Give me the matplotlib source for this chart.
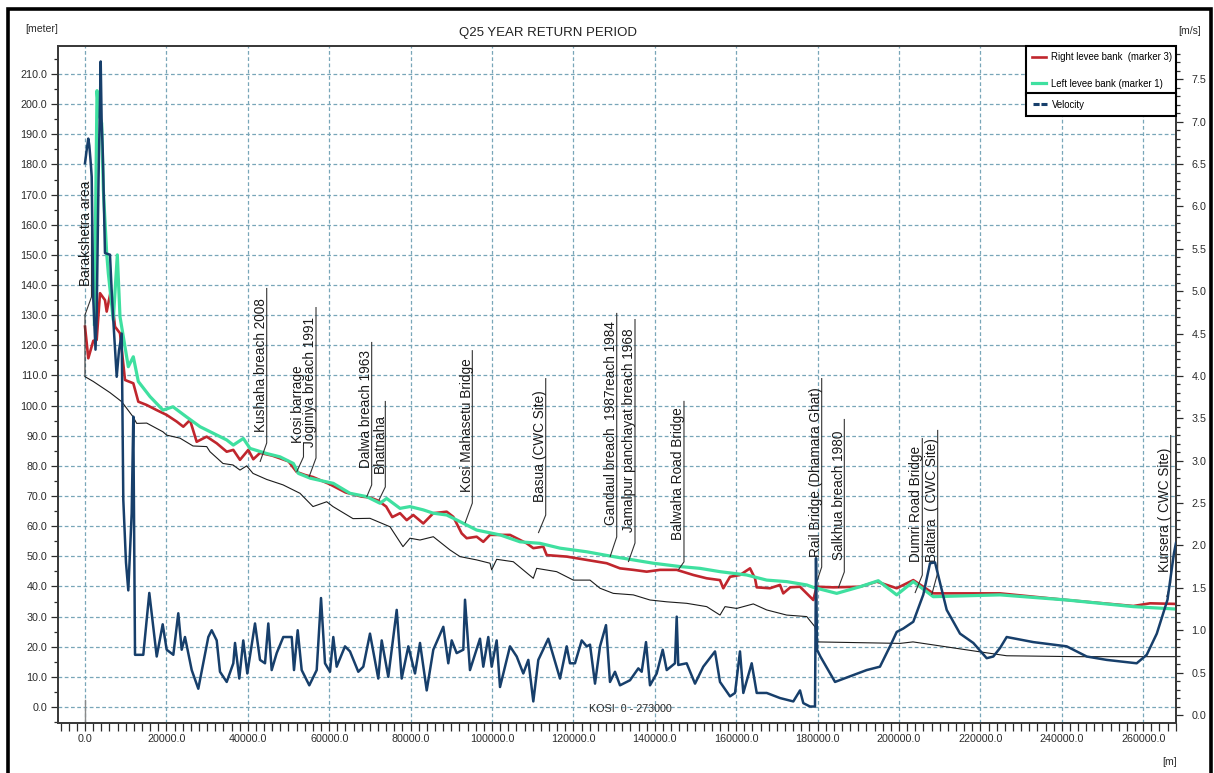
import matplotlib
matplotlib.use("Agg")
import matplotlib.pyplot as plt
from matplotlib import font_manager
from matplotlib.lines import Line2D
from matplotlib.patches import Rectangle
from matplotlib.ticker import MultipleLocator, FormatStrFormatter

# ---------------- data: Kosi reach, chainage in metres ----------------
bed_ch = [0, 2040, 6140, 9020, 11800, 12700, 15160, 19160, 20070, 23340,
          26540, 29900, 30710, 33900, 36360, 38080, 39730, 41280, 44640, 48650,
          52830, 56020, 59390, 60930, 65850, 70020, 74940, 78130, 79850, 82310,
          85580, 89680, 92140, 96240, 99510, 99920, 101150, 105230, 110150, 110980,
          115890, 119980, 124080, 126540, 129800, 134710, 138820, 142930, 147830, 152750,
          156020, 157250, 160120, 164200, 167500, 172410, 177320, 179360, 179770, 200250,
          203440, 219900, 226460, 243650, 268060]
bed_lv = [109.6, 108.0, 104.3, 101.3, 96.3, 94.1, 94.2, 91.3, 90.2, 89.2,
          86.6, 86.4, 84.7, 80.8, 80.3, 78.6, 80.0, 77.5, 75.5, 73.7,
          70.9, 66.5, 68.1, 66.5, 62.5, 62.6, 59.8, 53.2, 56.0, 55.4,
          56.5, 52.1, 49.9, 48.8, 47.7, 45.5, 49.0, 48.2, 42.7, 46.0,
          44.9, 42.1, 42.1, 39.4, 37.7, 37.2, 35.5, 34.9, 34.4, 33.3,
          30.5, 33.3, 32.7, 34.2, 32.2, 30.5, 30.0, 26.6, 21.6, 21.1,
          21.6, 18.3, 17.0, 16.7, 16.7]

right_ch = [0, 810, 2040, 2870, 3690, 4910, 5330, 6390, 7370, 8600,
            9830, 11870, 13100, 15160, 17620, 20070, 22530, 24150, 25800, 27440,
            29900, 32360, 34820, 36440, 38080, 40120, 41350, 43000, 46000, 50000,
            52000, 54000, 56000, 60000, 64000, 68000, 70000, 72000, 74000, 75500,
            77400, 79040, 80660, 83120, 85580, 88870, 90490, 92550, 93780, 96240,
            97860, 99510, 104420, 108530, 110150, 112610, 113440, 118350, 123270, 128180,
            131450, 134710, 138010, 141280, 145380, 149470, 152750, 156020, 156830, 158480,
            160930, 163390, 164620, 165040, 168300, 170760, 171570, 173290, 175680, 178950,
            179770, 183860, 190420, 194530, 199440, 203510, 208420, 224820, 233000, 241200,
            257570, 261670, 268060]
right_lv = [126.2, 115.7, 121.5, 121.8, 137.3, 135.0, 131.2, 138.4, 126.2, 124.0,
            108.5, 107.4, 101.3, 100.2, 98.5, 96.9, 94.7, 93.0, 95.2, 88.0,
            89.7, 87.5, 84.7, 85.3, 82.0, 85.3, 82.2, 84.3, 83.4, 81.5,
            78.0, 77.0, 76.3, 74.0, 71.2, 69.8, 69.5, 68.5, 66.5, 63.0,
            64.3, 62.0, 63.7, 60.9, 64.3, 64.8, 63.1, 57.6, 56.0, 56.5,
            54.8, 57.1, 57.1, 54.3, 52.7, 53.2, 50.4, 49.9, 48.8, 47.7,
            46.0, 45.5, 44.9, 45.5, 45.5, 43.8, 42.7, 42.1, 39.4, 43.2,
            43.8, 46.0, 42.7, 39.7, 39.4, 40.5, 37.7, 39.7, 39.9, 35.5,
            39.9, 39.7, 39.9, 41.6, 39.4, 42.1, 37.7, 37.7, 36.6, 35.5,
            33.5, 34.4, 34.2]

left_ch = [2300, 2950, 3400, 4100, 4510, 5330, 5730, 6950, 7940, 8600,
           10640, 11870, 13100, 15970, 19160, 21620, 24890, 28260, 31540, 34820,
           36440, 38900, 40540, 44640, 47920, 51200, 52430, 55370, 61010, 65110,
           69200, 72480, 74120, 77400, 79850, 83120, 85580, 88870, 92140, 96240,
           101970, 106890, 111800, 116710, 123270, 129800, 134710, 139630, 146180, 151100,
           156020, 162570, 167500, 172410, 177320, 178950, 184690, 190420, 194910, 199440,
           203510, 208420, 224820, 241200, 257570, 268060]
left_lv = [127.0, 204.5, 197.0, 193.7, 171.5, 150.5, 143.9, 128.4, 150.0, 129.5,
           112.9, 116.2, 108.0, 103.0, 98.5, 99.6, 96.3, 93.0, 90.8, 88.6,
           86.9, 89.1, 85.8, 84.1, 83.0, 80.8, 77.5, 75.9, 74.2, 70.9,
           69.8, 67.6, 69.2, 65.9, 66.5, 65.4, 64.3, 63.7, 61.5, 58.7,
           57.1, 54.8, 54.3, 52.7, 51.5, 49.9, 48.8, 47.7, 46.6, 46.0,
           44.9, 43.8, 42.1, 41.6, 40.5, 39.7, 37.7, 39.9, 41.9, 37.2,
           41.6, 36.6, 37.2, 35.5, 33.3, 32.5]

vel_ch = [0, 370, 810, 1060, 1350, 1650, 2040, 2580, 2870, 3320,
          3860, 4100, 4350, 4910, 6140, 6560, 6950, 7790, 8350, 9020,
          9410, 10070, 10640, 11470, 11870, 12290, 14320, 15800, 17620, 19090,
          20070, 21700, 22920, 23760, 24570, 26220, 27840, 30300, 31130, 32360,
          33170, 34820, 36440, 36860, 37910, 38890, 39880, 41770, 43000, 44230,
          45040, 45870, 47100, 48720, 50790, 51350, 52260, 53240, 55110, 56930,
          57990, 58970, 60200, 61010, 61840, 63880, 65110, 67150, 68380, 70020,
          72060, 72900, 74520, 76590, 77810, 79440, 81080, 82310, 83960, 85580,
          88040, 89260, 90100, 91320, 92950, 93370, 94590, 97050, 97860, 99090,
          99920, 101150, 101970, 104420, 106070, 107690, 108920, 110150, 111380, 113830,
          116710, 118350, 119160, 120390, 122040, 123270, 124080, 125310, 126540, 128010,
          128990, 130220, 131450, 133910, 135950, 136780, 137840, 138820, 140470, 141940,
          142930, 144960, 145380, 145770, 147830, 149880, 151910, 154790, 156020, 158480,
          159710, 160930, 161750, 163810, 165040, 167500, 170760, 174030, 175680, 176490,
          178130, 179360, 179610, 179860, 180680, 184280, 192060, 195320, 197790, 199440,
          201050, 203510, 205970, 207620, 208850, 211720, 214990, 218260, 221550, 223170,
          224820, 226460, 233000, 241200, 246120, 251030, 258400, 260860, 263340, 265970,
          267560, 268060]
vel_ms = [6.51, 6.65, 6.80, 6.72, 6.55, 6.35, 4.90, 4.31, 4.70, 6.30,
          7.71, 6.98, 6.67, 5.45, 5.43, 5.00, 4.66, 3.99, 4.30, 4.50,
          2.54, 1.80, 1.47, 2.38, 3.52, 0.71, 0.71, 1.44, 0.69, 1.07,
          0.77, 0.71, 1.20, 0.77, 0.92, 0.53, 0.31, 0.92, 1.00, 0.88,
          0.51, 0.39, 0.61, 0.85, 0.43, 0.88, 0.49, 1.08, 0.65, 0.61,
          1.08, 0.53, 0.73, 0.92, 0.92, 0.53, 1.00, 0.53, 0.35, 0.53,
          1.38, 0.61, 0.51, 0.92, 0.57, 0.81, 0.75, 0.51, 0.57, 0.96,
          0.43, 0.88, 0.45, 1.24, 0.43, 0.81, 0.49, 0.85, 0.29, 0.77,
          1.04, 0.61, 0.88, 0.73, 0.77, 1.36, 0.53, 0.90, 0.57, 0.92,
          0.57, 0.88, 0.33, 0.81, 0.69, 0.49, 0.65, 0.16, 0.65, 0.90,
          0.43, 0.81, 0.61, 0.61, 0.88, 0.81, 0.83, 0.37, 0.81, 1.06,
          0.39, 0.51, 0.35, 0.41, 0.55, 0.51, 0.86, 0.35, 0.49, 0.77,
          0.53, 0.61, 1.16, 0.59, 0.61, 0.37, 0.57, 0.75, 0.39, 0.22,
          0.26, 0.75, 0.26, 0.61, 0.26, 0.26, 0.20, 0.16, 0.29, 0.14,
          0.10, 0.10, 1.85, 0.77, 0.69, 0.39, 0.53, 0.57, 0.81, 0.98,
          1.02, 1.10, 1.42, 1.79, 1.80, 1.24, 0.96, 0.85, 0.67, 0.69,
          0.79, 0.92, 0.86, 0.81, 0.69, 0.65, 0.61, 0.71, 0.96, 1.36,
          1.91, 2.03]

# named sites along the reach and the point each one refers to
site_names = ["Barakshetra area", "Kushaha breach 2008", "Kosi barrage",
              "Joginiya breach 1991", "Dalwa breach 1963", "Bhatnaha",
              "Kosi Mahasetu Bridge", "Basua (CWC Site)",
              "Gandaul breach  1987reach 1984", "Jamalpur panchayat breach 1968",
              "Balwaha Road Bridge", "Rail Bridge (Dhamara Ghat)",
              "Salkhua breach 1980", "Dumri Road Bridge",
              "Baltara  ( CWC Site)", "Kursera ( CWC Site)"]
site_ch = [0, 43000, 52010, 55040, 69210, 72240, 93370, 111380,
           129000, 133490, 145770, 179360, 185090, 203930, 208030, 265770]
site_lv = [130.1, 81.3, 78.0, 76.3, 69.7, 68.7, 61.0, 57.7,
           49.8, 48.1, 45.5, 39.8, 39.5, 37.8, 37.2, 36.5]

# ---------------- layout of the site callouts (pixels from the site point) ----
# (dx of leader, leader top, leader bottom, start of text) ; upward distances
callout_px = [(6.5, 152, 18, 29), (6.7, 174, 19, 30), (6.8, 27, 15, 29),
              (7.0, 170, 19, 30), (5.0, 155, 12, 29), (6.3, 99, 13, 27),
              (7.3, 173, 20, 31), (7.4, 155, 18, 31), (6.7, 244, 20, 32),
              (6.7, 243, 19, 30), (5.7, 169, 8, 30), (6.7, 209, 20, 30),
              (6.0, 169, 16, 28), (7.3, 155, 18, 31), (6.0, 165, 22, 33),
              (4.0, 162, 14, 25)]

# ---------------- fonts ----------------
installed = {f.name for f in font_manager.fontManager.ttflist}
if "Liberation Sans Narrow" in installed:
    NARROW, NS, LEG_FS = "Liberation Sans Narrow", 1.0, 8.2
else:
    NARROW, NS, LEG_FS = "Liberation Sans", 0.9, 6.9
REGULAR = "Liberation Sans"

RED = "#c0262d"
GREEN = "#3fe0a0"
NAVY = "#173f6b"
BED = "#1c1c1c"
GRID = "#78a6b8"
INK = "#2b2b2b"

fig = plt.figure(figsize=(12.14, 7.73), dpi=100)
ax = fig.add_axes([0.04802, 0.06429, 0.92068, 0.87659])
ax2 = ax.twinx()

ax.set_xlim(-6560, 268060)
ax.set_ylim(-5.41, 219.41)
ax2.set_ylim(-0.098, 7.896)

ax.plot(bed_ch, bed_lv, color=BED, lw=0.8, zorder=3)
red_line, = ax.plot(right_ch, right_lv, color=RED, lw=1.9, zorder=4)
green_line, = ax.plot(left_ch, left_lv, color=GREEN, lw=2.3, zorder=5)
vel_line, = ax2.plot(vel_ch, vel_ms, color=NAVY, lw=1.8, zorder=3)

# reach start marker
ax.axvline(0, ymin=0, ymax=0.034, color="#8a8a8a", lw=1.0, zorder=2)

# axes styling
ax.xaxis.set_major_locator(MultipleLocator(20000))
ax.xaxis.set_minor_locator(MultipleLocator(2000))
ax.xaxis.set_major_formatter(FormatStrFormatter("%.1f"))
ax.yaxis.set_major_locator(MultipleLocator(10))
ax.yaxis.set_minor_locator(MultipleLocator(5))
ax.yaxis.set_major_formatter(FormatStrFormatter("%.1f"))
ax2.yaxis.set_major_locator(MultipleLocator(0.5))
ax2.yaxis.set_minor_locator(MultipleLocator(0.1))
ax2.yaxis.set_major_formatter(FormatStrFormatter("%.1f"))

tick_fs = 8.6 * NS
ax.tick_params(axis="x", which="both", direction="out", length=5.5, width=0.9,
               color=INK, pad=2, labelsize=tick_fs, labelcolor=INK)
ax.tick_params(axis="y", which="major", direction="out", length=5, width=0.9,
               color=INK, pad=3, labelsize=tick_fs, labelcolor=INK)
ax.tick_params(axis="y", which="minor", direction="out", length=3, width=0.9, color=INK)
ax2.tick_params(axis="y", which="major", direction="out", length=5, width=0.9,
                color=INK, pad=6, labelsize=tick_fs, labelcolor=INK)
ax2.tick_params(axis="y", which="minor", direction="out", length=3, width=0.9, color=INK)
for lab in ax.get_xticklabels() + ax.get_yticklabels() + ax2.get_yticklabels():
    lab.set_family(NARROW)

for a in (ax, ax2):
    for sp in a.spines.values():
        sp.set_color("#3a3a3a")
        sp.set_linewidth(1.3)

ax.set_axisbelow(True)
ax.grid(which="major", axis="both", color=GRID, linestyle=(0, (3, 2)), lw=0.9)

# site callouts: leader drawn beside rotated text, then a slanted tail to the site
fig.canvas.draw()
to_disp = ax.transData.transform
to_data = ax.transData.inverted().transform
for name, ch, lv, (dx, up_top, up_bot, up_txt) in zip(site_names, site_ch, site_lv, callout_px):
    X, Y = to_disp((ch, lv))
    x_top, y_top = to_data((X + dx, Y + up_top))
    _, y_bot = to_data((X + dx, Y + up_bot))
    xs, ys = [x_top, x_top, ch], [y_top, y_bot, lv]
    if ch == 0:
        xs.append(0)
        ys.append(bed_lv[0])
    ax.plot(xs, ys, color="#333333", lw=0.8, zorder=6, solid_capstyle="butt")
    tx, ty = to_data((X + dx - 1.8, Y + up_txt))
    ax.text(tx, ty, name, rotation=90, rotation_mode="anchor", ha="left",
            va="baseline", fontsize=9.8, family=REGULAR, color="#1a1a1a", zorder=7)

ax.text(133900, -0.7, "KOSI  0 - 273000", ha="center", va="center",
        fontsize=8.6 * NS, family=NARROW, color=INK, zorder=7)

# headings and unit captions
fig.text(0.4514, 0.9573, "Q25 YEAR RETURN PERIOD", ha="center", va="center",
         fontsize=10.6 * NS, family=NARROW, color="#222222")
fig.text(0.0346, 0.9625, "[meter]", ha="center", va="center",
         fontsize=8.4 * NS, family=NARROW, color=INK)
fig.text(0.9802, 0.9599, "[m/s]", ha="center", va="center",
         fontsize=8.4 * NS, family=NARROW, color=INK)
fig.text(0.9638, 0.0142, "[m]", ha="center", va="center",
         fontsize=8.4 * NS, family=NARROW, color=INK)

# legends: levee banks in an opaque box, velocity in a see-through box below
leg_font = {"family": NARROW, "size": LEG_FS}
leg1 = fig.legend([red_line, green_line],
                  ["Right levee bank  (marker 3)", "Left levee bank (marker 1)"],
                  loc="upper left", bbox_to_anchor=(0.8451, 0.8797, 0.1236, 0.0608),
                  mode="expand", borderaxespad=0, frameon=True, fancybox=False,
                  framealpha=1, facecolor="white", edgecolor="black", prop=leg_font,
                  borderpad=0.62, handlelength=1.5, handletextpad=0.5, labelspacing=1.75)
leg1.get_frame().set_linewidth(1.5)
vel_handle = Line2D([], [], color=NAVY, lw=2.2, dashes=(2.0, 0.6))
leg2 = fig.legend([vel_handle], ["Velocity"],
                  loc="upper left", bbox_to_anchor=(0.8451, 0.8473, 0.1236, 0.0324),
                  mode="expand", borderaxespad=0, frameon=True, fancybox=False,
                  framealpha=1, facecolor=(1, 1, 1, 0), edgecolor="black", prop=leg_font,
                  borderpad=0.7, handlelength=1.5, handletextpad=0.5)
frame2 = leg2.get_frame()
frame2.set_linewidth(1.5)
frame2.set_facecolor((1, 1, 1, 0))
frame2.set_edgecolor((0, 0, 0, 1))

# outer frame of the sheet
fig.patches.append(Rectangle((7.5 / 1214, -0.02), (1210.5 - 7.5) / 1214, 1 - 9 / 773 + 0.02,
                             transform=fig.transFigure, fill=False, lw=2.6,
                             edgecolor="black", zorder=10))

fig.savefig("out.png", dpi=100)
